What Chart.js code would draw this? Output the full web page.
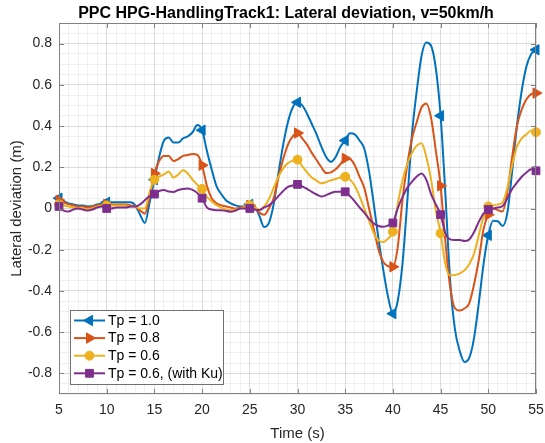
<!DOCTYPE html>
<html><head><meta charset="utf-8">
<script src="https://cdn.jsdelivr.net/npm/chart.js@4/dist/chart.umd.min.js"></script>
<style>html,body{margin:0;padding:0;background:#fff}#wrap{width:545px;height:443px;position:relative}</style>
</head><body><div id="wrap"><canvas id="c" width="545" height="443"></canvas></div>
<script>
const time = [5,5.5,6,6.5,7,7.5,8,8.5,9,9.5,10,10.5,11,11.5,12,12.5,13,13.5,14,14.5,15,15.5,16,16.5,17,17.5,18,18.5,19,19.5,20,20.5,21,21.5,22,22.5,23,23.5,24,24.5,25,25.5,26,26.5,27,27.5,28,28.5,29,29.5,30,30.5,31,31.5,32,32.5,33,33.5,34,34.5,35,35.5,36,36.5,37,37.5,38,38.5,39,39.5,40,40.5,41,41.5,42,42.5,43,43.5,44,44.5,45,45.5,46,46.5,47,47.5,48,48.5,49,49.5,50,50.5,51,51.5,52,52.5,53,53.5,54,54.5,55];

const tp10 = [0.05,0.035,0.025,0.02,0.015,0.015,0.01,0.012,0.02,0.025,
  0.03,0.03,0.03,0.03,0.03,0.03,0.015,-0.03,-0.07,0.03,
  0.14,0.25,0.33,0.345,0.32,0.32,0.34,0.35,0.37,0.405,
  0.38,0.28,0.19,0.11,0.07,0.04,0.025,0.015,0.01,0.01,
  0.02,0.01,-0.035,-0.09,-0.07,0.02,0.17,0.31,0.42,0.49,
  0.515,0.5,0.46,0.41,0.36,0.3,0.25,0.227,0.25,0.3,
  0.33,0.365,0.36,0.33,0.29,0.18,0.02,-0.15,-0.3,-0.43,
  -0.51,-0.45,-0.27,0.03,0.36,0.57,0.74,0.805,0.79,0.68,
  0.45,0.07,-0.35,-0.585,-0.69,-0.745,-0.725,-0.63,-0.46,-0.27,
  -0.13,-0.06,-0.062,-0.085,-0.02,0.18,0.4,0.57,0.69,0.75,
  0.77];

const tp08 = [0.04,0.03,0.02,0.015,0.01,0.01,0.005,0.01,0.015,0.02,
  0.02,0.02,0.02,0.02,0.02,0.015,0.01,-0.01,-0.025,0.06,
  0.17,0.23,0.255,0.255,0.23,0.24,0.255,0.26,0.265,0.26,
  0.21,0.11,0.05,0.025,0.016,0.01,0.005,0.0,0.005,0.01,
  0.015,0.005,-0.02,-0.03,0.0,0.05,0.15,0.24,0.31,0.35,
  0.366,0.34,0.31,0.27,0.235,0.2,0.172,0.175,0.19,0.215,
  0.243,0.24,0.21,0.155,0.1,0.0,-0.1,-0.2,-0.26,-0.28,
  -0.283,-0.19,0.04,0.21,0.34,0.42,0.49,0.51,0.44,0.28,
  0.11,-0.16,-0.38,-0.484,-0.495,-0.485,-0.46,-0.37,-0.25,-0.1,
  -0.03,0.0,-0.008,-0.014,0.08,0.25,0.4,0.48,0.53,0.555,
  0.56];

const tp06 = [0.02,0.015,0.01,0.005,0.0,0.0,-0.005,0.0,0.01,0.015,
  0.015,0.015,0.015,0.015,0.015,0.01,0.01,0.0,0.0,0.08,
  0.14,0.155,0.165,0.18,0.15,0.165,0.185,0.17,0.14,0.115,
  0.095,0.057,0.035,0.016,0.005,-0.005,-0.008,-0.005,0.0,0.008,
  0.016,0.008,-0.005,0.01,0.045,0.1,0.154,0.195,0.22,0.232,
  0.237,0.205,0.175,0.15,0.135,0.122,0.128,0.137,0.143,0.15,
  0.154,0.14,0.11,0.06,0.0,-0.06,-0.12,-0.155,-0.162,-0.145,
  -0.112,0.02,0.135,0.215,0.27,0.305,0.316,0.25,0.14,-0.01,
  -0.12,-0.27,-0.325,-0.323,-0.315,-0.3,-0.27,-0.22,-0.13,-0.04,
  0.01,0.015,0.02,0.03,0.1,0.21,0.3,0.34,0.36,0.378,
  0.37];

const tp06ku = [0.01,-0.01,-0.015,-0.005,0.0,-0.005,-0.01,-0.005,0.005,0.01,
  0.0,0.0,0.005,0.005,0.005,0.01,0.01,0.02,0.04,0.06,
  0.07,0.085,0.09,0.082,0.08,0.09,0.095,0.097,0.09,0.075,
  0.05,0.005,-0.005,-0.008,-0.008,-0.012,-0.016,-0.01,0.0,0.0,
  0.0,-0.005,-0.008,0.005,0.015,0.035,0.06,0.085,0.105,0.112,
  0.117,0.107,0.095,0.081,0.068,0.058,0.065,0.075,0.081,0.081,
  0.081,0.06,0.035,0.005,-0.02,-0.05,-0.073,-0.085,-0.089,-0.082,
  -0.07,0.0,0.055,0.1,0.13,0.155,0.17,0.14,0.07,0.02,
  -0.03,-0.12,-0.15,-0.153,-0.153,-0.158,-0.15,-0.115,-0.065,-0.025,
  -0.005,0.0,0.005,0.012,0.05,0.095,0.125,0.154,0.175,0.19,
  0.183];

const seriesNames = ["Tp = 1.0", "Tp = 0.8", "Tp = 0.6", "Tp = 0.6, (with Ku)"];
const xTickLabels = [5,10,15,20,25,30,35,40,45,50,55];
const yTickLabels = [-0.8,-0.6,-0.4,-0.2,0,0.2,0.4,0.6,0.8];
const titleText = "PPC HPG-HandlingTrack1: Lateral deviation, v=50km/h";
const xTitle = "Time (s)";
const yTitle = "Lateral deviation (m)";

const FONT = "'Liberation Sans', Arial, Helvetica, sans-serif";
const colors = ["#0072BD", "#D95319", "#EDB120", "#7E2F8E"];
const styles = [
  {pointStyle:'triangle', rotation:-90, radius:6},
  {pointStyle:'triangle', rotation:90, radius:6},
  {pointStyle:'circle', rotation:0, radius:4.5},
  {pointStyle:'rect', rotation:0, radius:5.5}
];
const seriesValues = [tp10, tp08, tp06, tp06ku];

function isMarker(i){ return xTickLabels.indexOf(time[i]) >= 0; }

const datasets = seriesValues.map((vals, k) => ({
  label: seriesNames[k],
  data: time.map((t, i) => ({x: t, y: vals[i]})),
  borderColor: colors[k],
  backgroundColor: colors[k],
  borderWidth: 2,
  pointStyle: styles[k].pointStyle,
  pointRotation: styles[k].rotation,
  pointRadius: ctx => isMarker(ctx.dataIndex) ? styles[k].radius : 0,
  pointHoverRadius: 0,
  pointBackgroundColor: colors[k],
  pointBorderColor: colors[k],
  pointBorderWidth: 1,
  cubicInterpolationMode: 'monotone',
  clip: false,
  order: 3 - k
}));

const MAJOR = 'rgba(38,38,38,0.16)';
const MINOR = 'rgba(38,38,38,0.07)';
const AXIS = '#808080';

const framePlugin = {
  id: 'matlabFrame',
  afterDraw(chart) {
    const {ctx, chartArea: a, scales} = chart;
    ctx.save();
    ctx.strokeStyle = AXIS;
    ctx.lineWidth = 1;
    ctx.strokeRect(Math.round(a.left) + 0.5, Math.round(a.top) + 0.5,
      Math.round(a.right - a.left) - 1, Math.round(a.bottom - a.top) - 1);
    ctx.beginPath();
    const tl = 5;
    xTickLabels.forEach(v => {
      const x = Math.round(scales.x.getPixelForValue(v)) + 0.5;
      ctx.moveTo(x, a.bottom); ctx.lineTo(x, a.bottom - tl);
      ctx.moveTo(x, a.top); ctx.lineTo(x, a.top + tl);
    });
    yTickLabels.forEach(v => {
      const y = Math.round(scales.y.getPixelForValue(v)) + 0.5;
      ctx.moveTo(a.left, y); ctx.lineTo(a.left + tl, y);
      ctx.moveTo(a.right, y); ctx.lineTo(a.right - tl, y);
    });
    ctx.stroke();
    ctx.fillStyle = '#000';
    ctx.font = 'bold 16px ' + FONT;
    ctx.textAlign = 'center';
    ctx.textBaseline = 'middle';
    ctx.fillText(titleText, 286, 14);
    const lx = a.left + 11, lw = 153, lh = 74;
    const ly = a.bottom - 10 - lh;
    ctx.fillStyle = '#fff';
    ctx.fillRect(lx, ly, lw, lh);
    ctx.strokeStyle = '#707070';
    ctx.strokeRect(Math.round(lx) + 0.5, Math.round(ly) + 0.5, lw, lh);
    ctx.font = '14px ' + FONT;
    ctx.textAlign = 'left';
    ctx.textBaseline = 'middle';
    seriesNames.forEach((name, k) => {
      const y = ly + 10.5 + k * 17.6;
      ctx.strokeStyle = colors[k];
      ctx.lineWidth = 2;
      ctx.beginPath();
      ctx.moveTo(lx + 4, y); ctx.lineTo(lx + 35, y);
      ctx.stroke();
      ctx.fillStyle = colors[k];
      ctx.lineWidth = 1;
      Chart.helpers.drawPoint(ctx, {pointStyle: styles[k].pointStyle, rotation: styles[k].rotation, radius: styles[k].radius, borderWidth: 1}, lx + 19.5, y);
      ctx.fillStyle = '#000';
      ctx.fillText(name, lx + 38, y + 0.5);
    });
    ctx.restore();
  }
};

new Chart(document.getElementById('c'), {
  type: 'line',
  data: { datasets },
  options: {
    responsive: false,
    animation: false,
    devicePixelRatio: 1,
    layout: { padding: { top: 23, right: 9, bottom: 0, left: 0 } },
    plugins: { legend: { display: false }, title: { display: false }, tooltip: { enabled: false } },
    scales: {
      x: {
        type: 'linear', min: 5, max: 55,
        afterBuildTicks: s => { const t = []; for (let v = 5; v <= 55; v++) t.push({value: v}); s.ticks = t; },
        afterFit: s => { s.height = 49; s.paddingRight = 0; s.paddingLeft = 0; },
        ticks: {
          autoSkip: false, maxRotation: 0, padding: 8, color: '#262626',
          font: { family: FONT, size: 14 },
          callback: v => xTickLabels.indexOf(v) >= 0 ? String(v) : ''
        },
        grid: { drawTicks: false, color: c => (c.tick && xTickLabels.indexOf(c.tick.value) >= 0) ? MAJOR : MINOR },
        border: { display: false },
        title: { display: true, text: xTitle, color: '#262626', font: { family: FONT, size: 15 }, padding: { top: 4, bottom: 0 } }
      },
      y: {
        type: 'linear', min: -0.9, max: 0.9,
        afterBuildTicks: s => { const t = []; for (let i = -18; i <= 18; i++) t.push({value: Math.round(i * 5) / 100}); s.ticks = t; },
        afterFit: s => { s.width = 59; s.paddingTop = 0; s.paddingBottom = 0; },
        ticks: {
          autoSkip: false, padding: 7, color: '#262626',
          font: { family: FONT, size: 14 },
          callback: v => { const m = yTickLabels.find(l => Math.abs(l - v) < 1e-6); return m === undefined ? '' : String(m); }
        },
        grid: { drawTicks: false, color: c => (c.tick && yTickLabels.some(l => Math.abs(l - c.tick.value) < 1e-6)) ? MAJOR : MINOR },
        border: { display: false },
        title: { display: true, text: yTitle, color: '#262626', font: { family: FONT, size: 15 }, padding: { top: 8, bottom: 0 } }
      }
    }
  },
  plugins: [framePlugin]
});
</script>
</body></html>
